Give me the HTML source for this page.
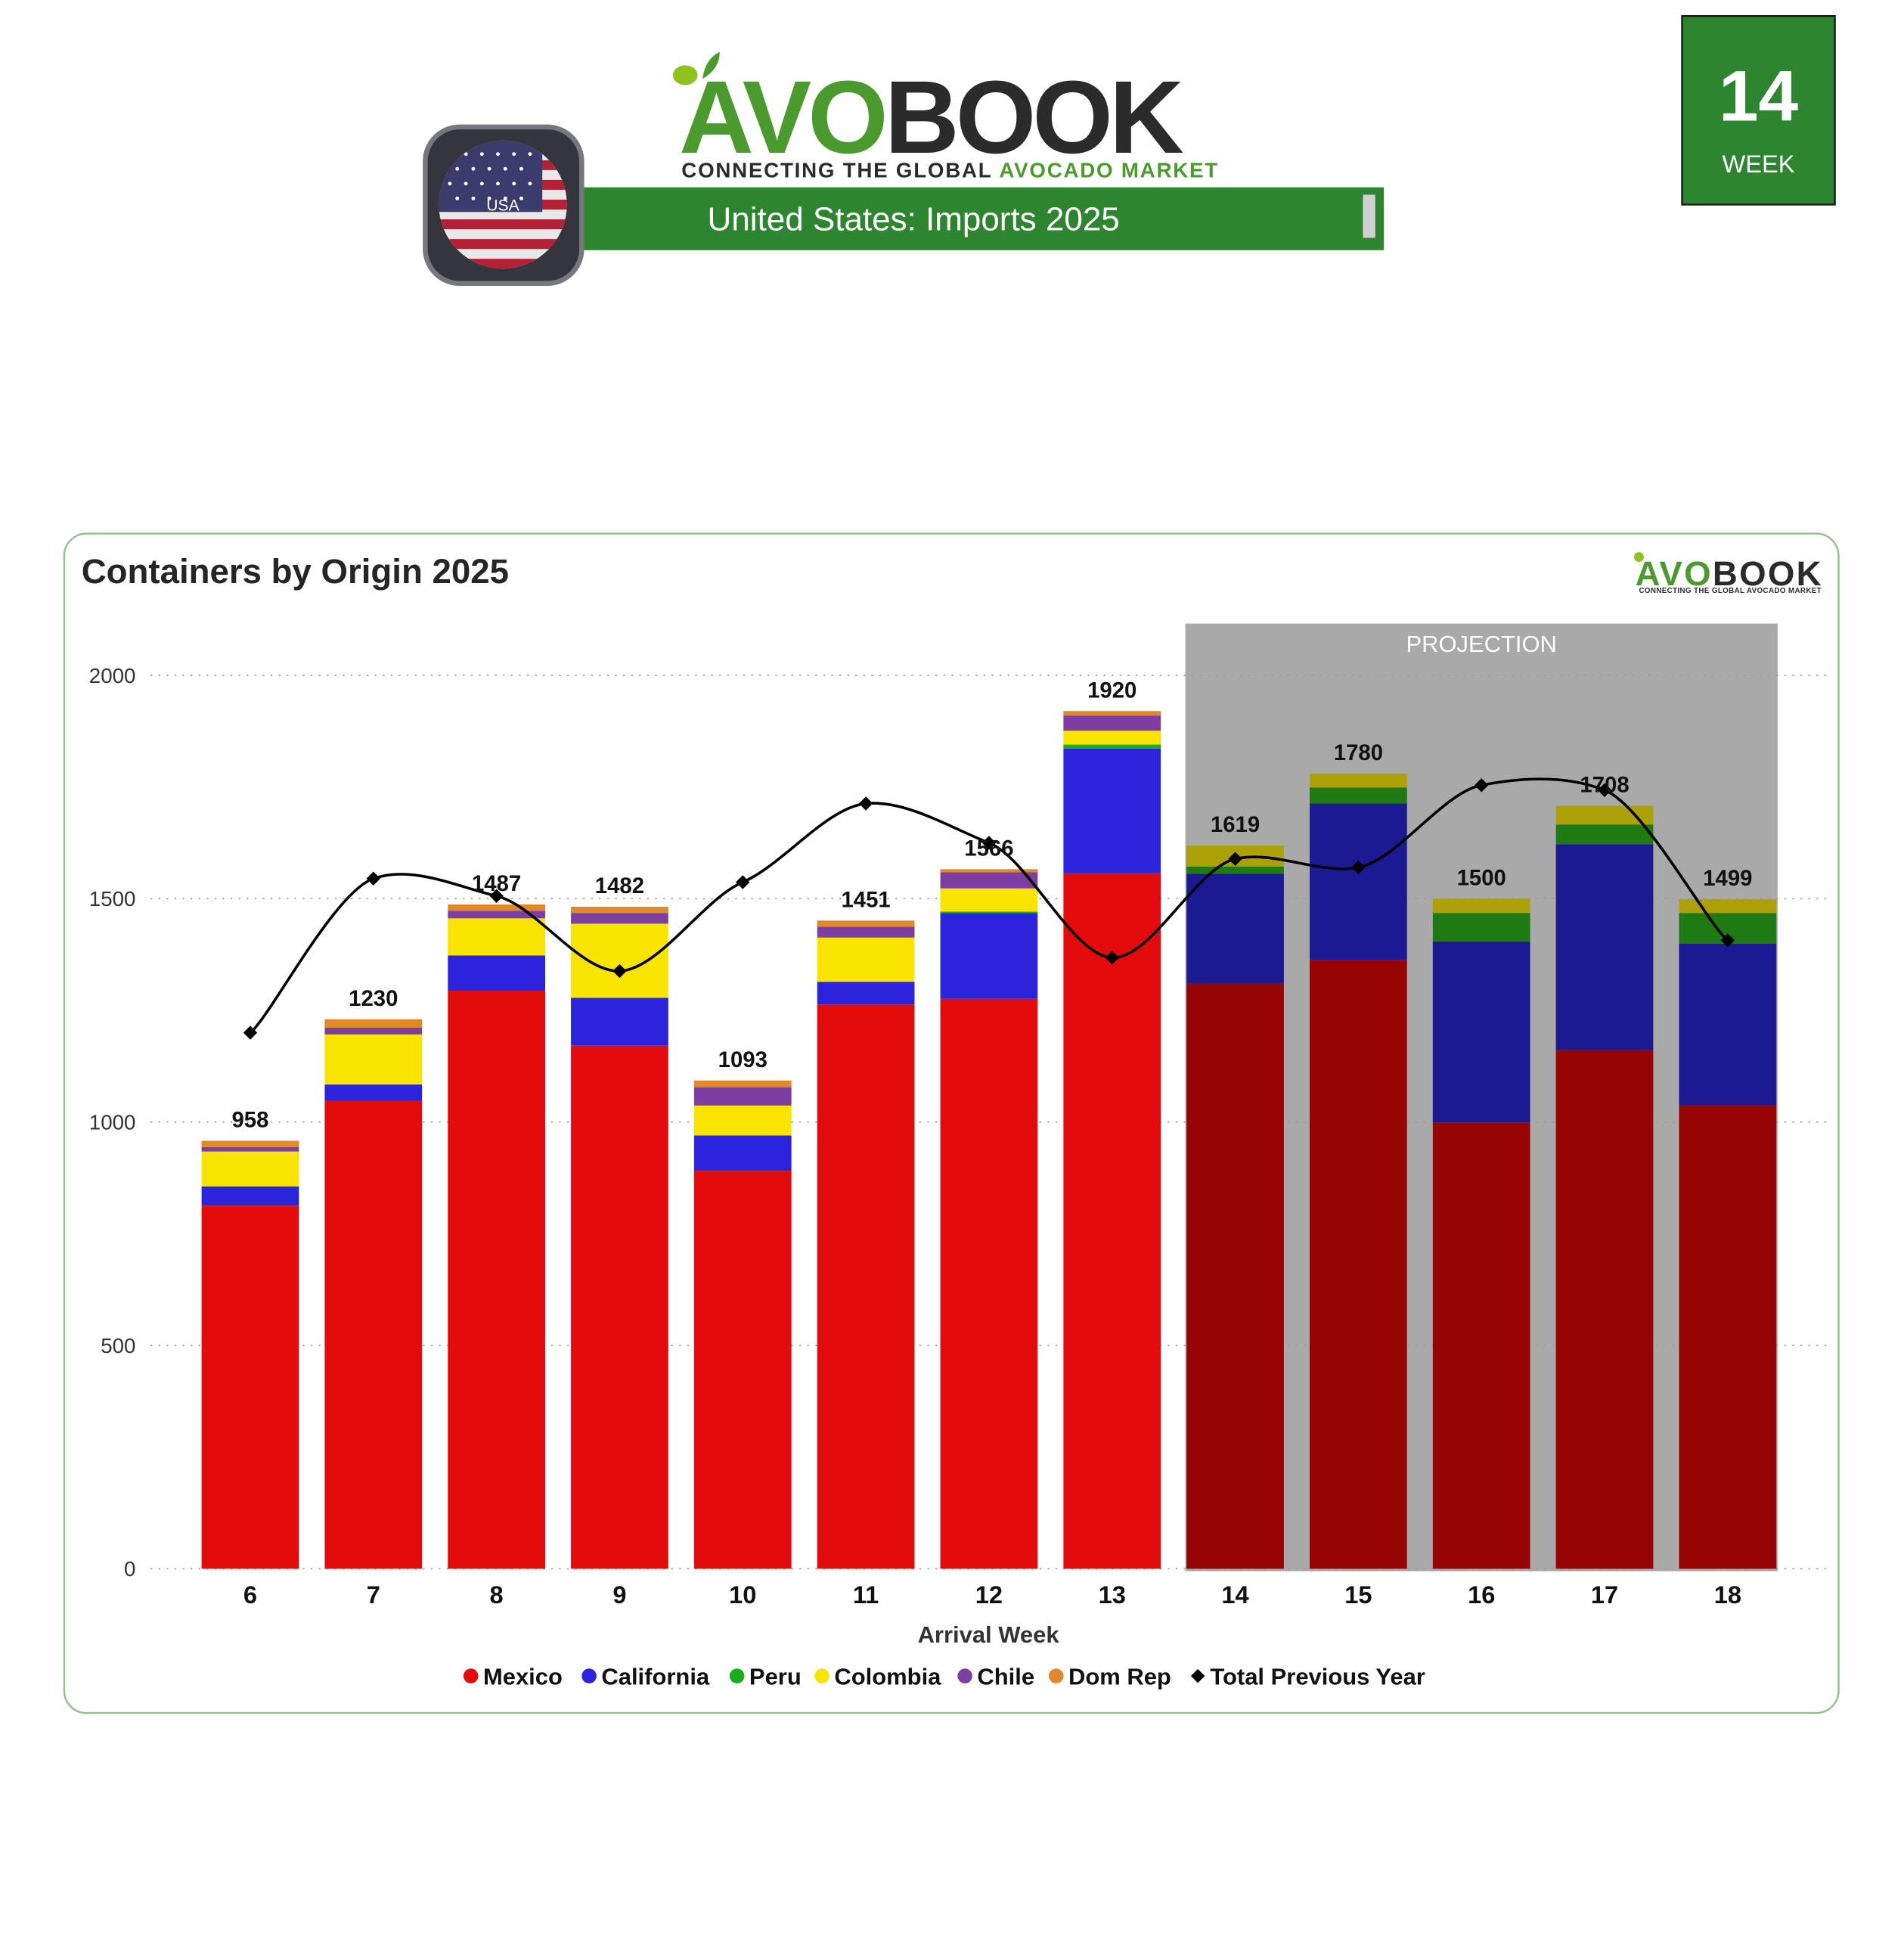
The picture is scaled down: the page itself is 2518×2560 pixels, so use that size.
<!DOCTYPE html>
<html><head><meta charset="utf-8"><style>
html,body{margin:0;padding:0;background:#fff;}
svg{display:block;font-family:"Liberation Sans","DejaVu Sans",sans-serif;}
</style></head><body>
<svg id="page" width="2518" height="2560" viewBox="0 0 1545 1571" xmlns="http://www.w3.org/2000/svg">
<defs>
<clipPath id="flagclip"><circle cx="408" cy="166" r="52"/></clipPath>
</defs>
<g>
  <ellipse cx="556" cy="61" rx="10" ry="8" fill="#8dc21f"/>
  <path d="M570 64 Q572 48 584 42 Q584 56 570 64Z" fill="#4a9a2e"/>
  <text x="551" y="124" font-size="84" font-weight="bold" fill="#4a9a2e" letter-spacing="-3">AVO<tspan fill="#2b2b2b">BOOK</tspan></text>
  <text x="553" y="144" font-size="17" font-weight="bold" fill="#2b2b2b" textLength="435">CONNECTING THE GLOBAL <tspan fill="#4a9a2e">AVOCADO MARKET</tspan></text>
</g>
<g>
  <rect x="470" y="152" width="653" height="51" fill="#2e8530"/>
  <rect x="1106" y="158" width="10" height="35" fill="#d0d0d0"/>
  <text x="574" y="187" font-size="27" fill="#fff">United States: Imports 2025</text>
</g>
<g>
  <rect x="345" y="103" width="127" height="127" rx="28" fill="#35353d" stroke="#77777f" stroke-width="4"/>
  <g clip-path="url(#flagclip)">
    <rect x="350" y="110" width="120" height="112" fill="#e8e8e8"/>
    <g fill="#b22234">
      <rect x="350" y="114" width="120" height="8"/><rect x="350" y="130" width="120" height="8"/>
      <rect x="350" y="146" width="120" height="8"/><rect x="350" y="162" width="120" height="8"/>
      <rect x="350" y="178" width="120" height="8"/><rect x="350" y="194" width="120" height="8"/>
      <rect x="350" y="210" width="120" height="8"/>
    </g>
    <rect x="350" y="110" width="90" height="62" fill="#3c3b6e"/>
    <g fill="#fff">
      <circle cx="365" cy="125" r="1.5"/><circle cx="378" cy="125" r="1.5"/><circle cx="391" cy="125" r="1.5"/><circle cx="404" cy="125" r="1.5"/><circle cx="417" cy="125" r="1.5"/><circle cx="430" cy="125" r="1.5"/>
      <circle cx="371" cy="137" r="1.5"/><circle cx="384" cy="137" r="1.5"/><circle cx="397" cy="137" r="1.5"/><circle cx="410" cy="137" r="1.5"/><circle cx="423" cy="137" r="1.5"/>
      <circle cx="365" cy="149" r="1.5"/><circle cx="378" cy="149" r="1.5"/><circle cx="391" cy="149" r="1.5"/><circle cx="404" cy="149" r="1.5"/><circle cx="417" cy="149" r="1.5"/><circle cx="430" cy="149" r="1.5"/>
      <circle cx="371" cy="161" r="1.5"/><circle cx="384" cy="161" r="1.5"/><circle cx="397" cy="161" r="1.5"/><circle cx="410" cy="161" r="1.5"/><circle cx="423" cy="161" r="1.5"/>
    </g>
  </g>
  <text x="408" y="171" font-size="13" fill="#fff" text-anchor="middle">USA</text>
</g>
<g>
  <rect x="1365" y="13" width="124" height="153" fill="#2e8530" stroke="#1a1a1a" stroke-width="1.5"/>
  <text x="1427" y="98" font-size="58" font-weight="bold" fill="#fff" text-anchor="middle">14</text>
  <text x="1427" y="140" font-size="20" fill="#fff" text-anchor="middle">WEEK</text>
</g>
<g>
  <rect x="52" y="433" width="1440" height="957" rx="18" fill="#fff" stroke="#93c08d" stroke-width="1.5"/>
  <text x="66" y="473" font-size="28" font-weight="bold" fill="#252525">Containers by Origin 2025</text>
  <g>
    <circle cx="1330" cy="452" r="4" fill="#8dc21f"/>
    <text x="1327" y="475" font-size="28" font-weight="bold" fill="#4a9a2e" letter-spacing="-1" textLength="150">AVO<tspan fill="#2b2b2b">BOOK</tspan></text>
    <text x="1330" y="481" font-size="6" font-weight="bold" fill="#2b2b2b" textLength="148">CONNECTING THE GLOBAL AVOCADO MARKET</text>
  </g>
</g>
<g id="chart"></g>
</svg>
<script>
const weeks = [6,7,8,9,10,11,12,13,14,15,16,17,18];
const mexico =     [813,1047,1294,1171,891,1263,1276,1557,1310,1363,999,1161,1037];
const california = [43,37,79,107,79,51,192,279,246,350,405,461,362];
const peru =       [0,0,0,0,0,0,3,9,16,36,64,44,69];
const colombia =   [78,112,83,166,67,99,52,31,47,31,32,42,31];
const chile =      [10,15,17,24,41,24,36,34,0,0,0,0,0];
const domrep =     [14,19,14,14,15,14,7,10,0,0,0,0,0];
const totals =     [958,1230,1487,1482,1093,1451,1566,1920,1619,1780,1500,1708,1499];
const prevYear =   [1200,1545,1506,1338,1537,1713,1625,1368,1589,1570,1754,1743,1407];
const yTicks = [0,500,1000,1500,2000];
const projStart = 14;

const NS='http://www.w3.org/2000/svg';
const g=document.getElementById('chart');
const y0=1273, yScale=725/2000, x0=203, step=99.92, bw=79;
const X=i=>x0+i*step, Y=v=>y0-v*yScale;
function mk(tag,attrs,parent){const e=document.createElementNS(NS,tag);for(const k in attrs)e.setAttribute(k,attrs[k]);(parent||g).appendChild(e);return e;}

const pi=weeks.indexOf(projStart);
const proj=mk('rect',{x:X(pi)-bw/2-1,y:506,width:X(weeks.length-1)-X(pi)+bw+2,height:Y(0)-506+2,fill:'#a9a9a9'});


const pt=mk('text',{x:(X(pi)+X(weeks.length-1))/2,y:529,'font-size':19,fill:'#fff','text-anchor':'middle'});
pt.textContent='PROJECTION';



yTicks.forEach(t=>{
  const l=mk('line',{x1:122,x2:1482,y1:Y(t),y2:Y(t),stroke:'#9a9a9a','stroke-width':1,'stroke-dasharray':'1.5 5'});
  
  
  const tx=mk('text',{x:110,y:Y(t)+6,'font-size':17,fill:'#333','text-anchor':'end'});
  tx.textContent=t;
  
  
});

const series=[
  {name:'mexico',d:mexico,c:'#e30b0b',pc:'#960404'},
  {name:'california',d:california,c:'#2c24dc',pc:'#1c1a93'},
  {name:'peru',d:peru,c:'#17b01a',pc:'#1f7a14'},
  {name:'colombia',d:colombia,c:'#f9e400',pc:'#ada10a'},
  {name:'chile',d:chile,c:'#7c3fa1',pc:'#55306d'},
  {name:'domrep',d:domrep,c:'#e0882a',pc:'#9a6020'}
];
weeks.forEach((w,i)=>{
  let acc=0;
  const isProj=w>=projStart;
  series.forEach(s=>{
    const v=s.d[i]; if(!v) return;
    const r=mk('rect',{x:X(i)-bw/2,y:Y(acc+v),width:bw,height:v*yScale,fill:isProj?s.pc:s.c});
    
    
    acc+=v;
  });
  const xl=mk('text',{x:X(i),y:1301,'font-size':20,'font-weight':'bold',fill:'#111','text-anchor':'middle'});
  xl.textContent=w;
  
  
});

let d='M'+X(0)+','+Y(prevYear[0]);
const k=10;
for(let i=0;i<prevYear.length-1;i++){
  const a=Math.max(i-1,0),b=Math.min(i+2,prevYear.length-1);
  const p0=[X(a),Y(prevYear[a])],p1=[X(i),Y(prevYear[i])],p2=[X(i+1),Y(prevYear[i+1])],p3=[X(b),Y(prevYear[b])];
  const c1=[p1[0]+(p2[0]-p0[0])/k*1.6,p1[1]+(p2[1]-p0[1])/k],c2=[p2[0]-(p3[0]-p1[0])/k*1.6,p2[1]-(p3[1]-p1[1])/k];
  d+=` C${c1[0]},${c1[1]} ${c2[0]},${c2[1]} ${p2[0]},${p2[1]}`;
}
const line=mk('path',{d:d,fill:'none',stroke:'#000','stroke-width':2.2});


prevYear.forEach((v,i)=>{
  const m=mk('rect',{x:X(i)-4,y:Y(v)-4,width:8,height:8,fill:'#000',transform:`rotate(45 ${X(i)} ${Y(v)})`});
  
  
});
totals.forEach((t,i)=>{
  const tl=mk('text',{x:X(i),y:Y(t)-11,'font-size':18,'font-weight':'bold',fill:'#111','text-anchor':'middle'});
  tl.textContent=t;
  
  
});
const xt=mk('text',{x:802,y:1333,'font-size':19,'font-weight':'bold',fill:'#333','text-anchor':'middle'});
xt.textContent='Arrival Week';



const legend=[['Mexico','#e30b0b'],['California','#2c24dc'],['Peru','#17b01a'],['Colombia','#f9e400'],['Chile','#7c3fa1'],['Dom Rep','#e0882a'],['Total Previous Year','#000']];
const lx=[376,472,592,661,777,851,966];
legend.forEach((e,j)=>{
  const lg=mk('g',{});
  
  
  if(j<6) mk('circle',{cx:lx[j]+6,cy:1360,r:6,fill:e[1]},lg);
  else mk('rect',{x:lx[j]+2,y:1356,width:8,height:8,fill:'#000',transform:`rotate(45 ${lx[j]+6} 1360)`},lg);
  const t=mk('text',{x:lx[j]+16,y:1367,'font-size':19,'font-weight':'bold',fill:'#111'},lg);
  t.textContent=e[0];
});
</script>
</body></html>
